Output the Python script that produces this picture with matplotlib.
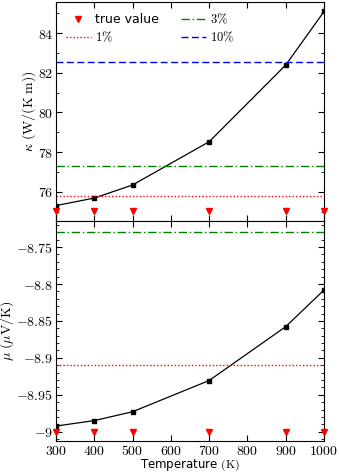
import numpy as np
import matplotlib.pyplot as plt
from matplotlib.ticker import MultipleLocator

plt.rcParams['mathtext.fontset'] = 'cm'
plt.rcParams['font.size'] = 9

temps = [300, 400, 500, 700, 900, 1000]
kappa = [75.30, 75.68, 76.34, 78.52, 82.39, 85.09]
kappa_true = 75.05
mu = [-8.9924, -8.985, -8.973, -8.9307, -8.8577, -8.808]
mu_true = -9.0
pcts = [0.01, 0.03, 0.10]

fig = plt.figure(figsize=(3.39, 4.75), dpi=100)
ax1 = fig.add_axes([0.165, 0.535, 0.791, 0.461])
ax2 = fig.add_axes([0.165, 0.071, 0.791, 0.464], sharex=ax1)

styles = [dict(color='red', ls=(0, (1, 1.5)), lw=1.0, label=r'$1\%$'),
          dict(color='green', ls=(0, (6, 2, 1, 2)), lw=1.0, label=r'$3\%$'),
          dict(color='blue', ls=(0, (5, 2.5)), lw=1.0, label=r'$10\%$')]

for ax, vals, tv in [(ax1, kappa, kappa_true), (ax2, mu, mu_true)]:
    ax.plot(temps, vals, '-s', color='black', lw=0.9, ms=3.5)
    ax.plot(temps, [tv] * len(temps), 'v', color='red', ms=5, ls='none',
            label='true value', clip_on=False, zorder=5)
    for p, st in zip(pcts, styles):
        ax.axhline(tv + abs(tv) * p, **st)
        ax.axhline(tv - abs(tv) * p, **{k: v for k, v in st.items() if k != 'label'})
    ax.tick_params(direction='in', which='both', top=True, right=True)
    ax.tick_params(which='major', length=4, pad=2, labelsize=10)
    ax.tick_params(which='minor', length=2)

ax1.set_ylim(74.53, 85.57)
ax1.yaxis.set_minor_locator(MultipleLocator(1))
ax1.set_yticks([76, 78, 80, 82, 84])
ax1.set_yticklabels([r'$76$', r'$78$', r'$80$', r'$82$', r'$84$'])
ax1.set_ylabel(r'$\kappa\ \mathrm{(W/(K\ m))}$', fontsize=10, labelpad=0)
ax1.tick_params(labelbottom=False)

ax2.set_ylim(-9.013, -8.7145)
ax2.yaxis.set_minor_locator(MultipleLocator(0.01))
ax2.set_yticks([-9, -8.95, -8.9, -8.85, -8.8, -8.75])
ax2.set_yticklabels([r'$-9$', r'$-8.95$', r'$-8.9$', r'$-8.85$', r'$-8.8$', r'$-8.75$'])
ax2.set_ylabel(r'$\mu\ \mathrm{(\mu V/K)}$', fontsize=10, labelpad=0)

ax2.set_xlim(300, 1000)
ax2.set_xticks(range(300, 1001, 100))
ax2.set_xticklabels([r'$%d$' % t for t in range(300, 1001, 100)])
ax2.set_xlabel(r'Temperature $\mathrm{(K)}$', fontsize=8.5, labelpad=0)

ax1.legend(ncol=2, frameon=False, loc='upper left', fontsize=9,
           handlelength=2.0, columnspacing=1.8, handletextpad=0.3,
           borderaxespad=0.4, labelspacing=0.3)

fig.savefig('out.png', dpi=100)
